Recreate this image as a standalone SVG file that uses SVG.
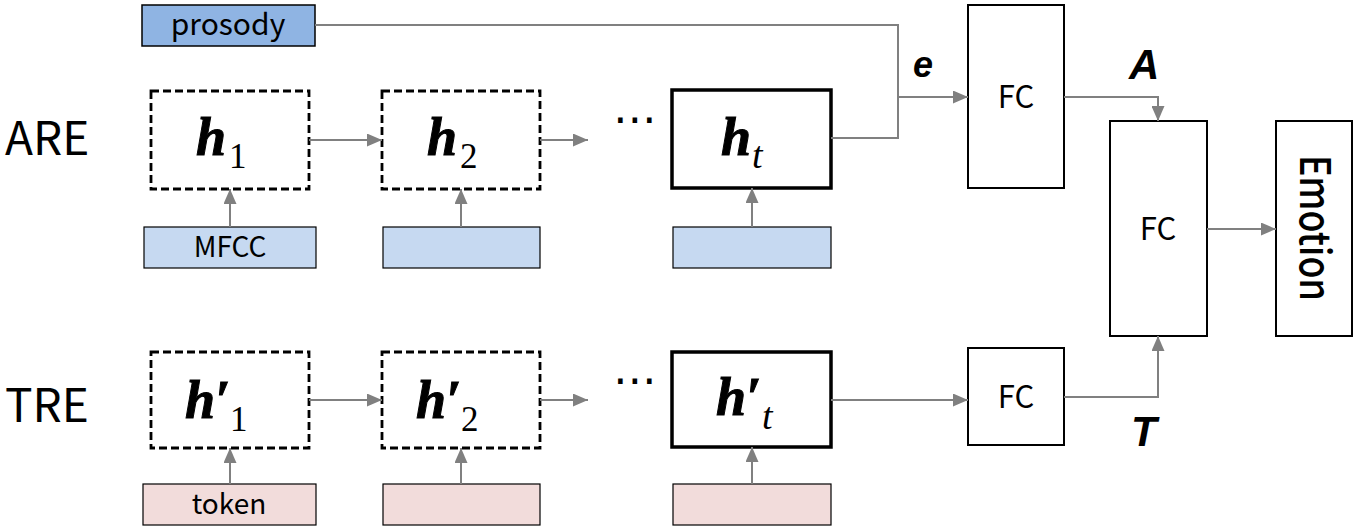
<svg xmlns="http://www.w3.org/2000/svg" width="1358" height="530" viewBox="0 0 1358 530">
<style>
.box{fill:#fff;stroke:#000;stroke-width:2}
.dash{fill:#fff;stroke:#000;stroke-width:2.8;stroke-dasharray:8,4}
.thick{fill:#fff;stroke:#000;stroke-width:3.5}
.blue{fill:#C6D9F1;stroke:#000;stroke-width:1.2}
.dblue{fill:#8FB4E3;stroke:#000;stroke-width:1.5}
.pink{fill:#F2DCDB;stroke:#000;stroke-width:1.2}
.lbl{font-family:"Noto Sans CJK JP","Noto Sans",sans-serif;fill:#000}
.math{font-family:"Liberation Serif",serif;font-weight:bold;font-style:italic;fill:#000;stroke:#000;stroke-width:1}
.sub{font-family:"Liberation Serif",serif;fill:#000}
.vec{font-family:"Liberation Sans",sans-serif;font-weight:bold;font-style:italic;fill:#000}
.dots{font-family:"DejaVu Sans",sans-serif;fill:#000}
.conn{fill:none;stroke:#808080;stroke-width:2}
</style>
<defs>
<marker id="arr" markerWidth="15" markerHeight="13" refX="15" refY="6.5" orient="auto" markerUnits="userSpaceOnUse">
<path d="M0,0 L15,6.5 L0,13 Z" fill="#808080"/>
</marker>
</defs>
<text class="lbl" x="5" y="155" font-size="46">ARE</text>
<text class="lbl" x="5" y="422" font-size="46">TRE</text>
<g id="prosody"><rect class="dblue" x="142" y="5" width="173" height="41"/><text class="lbl" x="228" y="35" font-size="30" text-anchor="middle">prosody</text></g>
<g id="h1"><rect class="dash" x="151" y="91" width="158" height="98"/><text class="math" x="196" y="155" font-size="54">h</text><text class="sub" x="229" y="168" font-size="35">1</text></g>
<g id="h2"><rect class="dash" x="382" y="91" width="158" height="98"/><text class="math" x="427" y="155" font-size="54">h</text><text class="sub" x="460" y="168" font-size="35">2</text></g>
<g id="dots1"><text class="dots" x="635" y="134" font-size="44" text-anchor="middle">⋯</text></g>
<g id="ht"><rect class="thick" x="672" y="90" width="159" height="98"/><text class="math" x="721" y="155" font-size="54">h</text><text class="sub" x="752" y="168" font-size="38" font-style="italic">t</text></g>
<g id="mfcc"><rect class="blue" x="144" y="227" width="172" height="41"/><text class="lbl" x="230" y="257" font-size="28" text-anchor="middle">MFCC</text></g>
<g id="in2"><rect class="blue" x="383" y="227" width="157" height="41"/></g>
<g id="int"><rect class="blue" x="673" y="227" width="158" height="41"/></g>
<g id="fc1"><rect class="box" x="968" y="5" width="96" height="183"/><text class="lbl" x="1016" y="108" font-size="31" text-anchor="middle">FC</text></g>
<g id="fc2"><rect class="box" x="1110" y="121" width="97" height="215"/><text class="lbl" x="1158" y="240" font-size="31" text-anchor="middle">FC</text></g>
<g id="emotion"><rect class="box" x="1276" y="121" width="76" height="215"/><text class="lbl" transform="translate(1300,228) rotate(90)" font-size="42" font-weight="500" text-anchor="middle" textLength="146" lengthAdjust="spacingAndGlyphs">Emotion</text></g>
<g id="fc3"><rect class="box" x="968" y="348" width="96" height="97"/><text class="lbl" x="1016" y="408" font-size="31" text-anchor="middle">FC</text></g>
<g id="hp1"><rect class="dash" x="151" y="352" width="158" height="96"/><text class="math" x="185" y="418" font-size="54">h′</text><text class="sub" x="230" y="431" font-size="35">1</text></g>
<g id="hp2"><rect class="dash" x="382" y="352" width="158" height="96"/><text class="math" x="416" y="418" font-size="54">h′</text><text class="sub" x="461" y="431" font-size="35">2</text></g>
<g id="dots2"><text class="dots" x="635" y="395" font-size="44" text-anchor="middle">⋯</text></g>
<g id="hpt"><rect class="thick" x="672" y="352" width="159" height="95"/><text class="math" x="716" y="415" font-size="54">h′</text><text class="sub" x="762" y="429" font-size="38" font-style="italic">t</text></g>
<g id="token"><rect class="pink" x="143" y="484" width="173" height="41"/><text class="lbl" x="229" y="514" font-size="28" text-anchor="middle">token</text></g>
<g id="tin2"><rect class="pink" x="383" y="484" width="157" height="41"/></g>
<g id="tint"><rect class="pink" x="673" y="484" width="158" height="41"/></g>
<g id="labels">
<text class="vec" x="913" y="77" font-size="36">e</text>
<text class="vec" x="1129" y="79" font-size="42">A</text>
<text class="vec" x="1131" y="446" font-size="42">T</text>
</g>
<g id="connectors">
<line class="conn" x1="309" y1="140" x2="382" y2="140" marker-end="url(#arr)"/>
<line class="conn" x1="540" y1="140" x2="588" y2="140" marker-end="url(#arr)"/>
<polyline class="conn" points="315,25 898,25 898,138 831,138"/>
<line class="conn" x1="898" y1="97" x2="968" y2="97" marker-end="url(#arr)"/>
<polyline class="conn" points="1064,97 1158,97 1158,121" marker-end="url(#arr)"/>
<line class="conn" x1="1207" y1="229" x2="1276" y2="229" marker-end="url(#arr)"/>
<line class="conn" x1="230" y1="227" x2="230" y2="189" marker-end="url(#arr)"/>
<line class="conn" x1="461" y1="227" x2="461" y2="189" marker-end="url(#arr)"/>
<line class="conn" x1="752" y1="227" x2="752" y2="188" marker-end="url(#arr)"/>
<line class="conn" x1="309" y1="400" x2="382" y2="400" marker-end="url(#arr)"/>
<line class="conn" x1="540" y1="400" x2="588" y2="400" marker-end="url(#arr)"/>
<line class="conn" x1="831" y1="400" x2="968" y2="400" marker-end="url(#arr)"/>
<polyline class="conn" points="1064,397 1158,397 1158,336" marker-end="url(#arr)"/>
<line class="conn" x1="230" y1="484" x2="230" y2="448" marker-end="url(#arr)"/>
<line class="conn" x1="461" y1="484" x2="461" y2="448" marker-end="url(#arr)"/>
<line class="conn" x1="752" y1="484" x2="752" y2="447" marker-end="url(#arr)"/>
</g>
</svg>
